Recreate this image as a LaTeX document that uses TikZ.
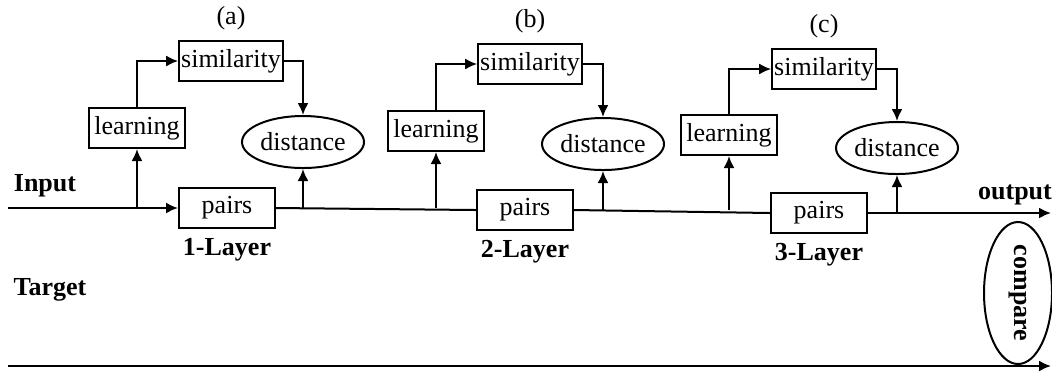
\documentclass[tikz,border=0pt]{standalone}
\usepackage{fontspec}
\setmainfont{Liberation Serif}
\usetikzlibrary{positioning,shapes.geometric,arrows.meta}

\tikzset{
  box/.style={draw, line width=1pt, minimum width=48pt, minimum height=20pt, inner sep=1pt},
  oval/.style={draw, line width=1pt, ellipse, minimum width=61pt, minimum height=26pt, inner sep=0pt},
  lbl/.style={font=\fontsize{13}{15}\selectfont\bfseries},
  wire/.style={line width=1pt},
  >={Latex[length=6pt, width=5.5pt]}
}

\begin{document}
\begin{tikzpicture}[x=0.5pt, y=-0.5pt, wire, font=\fontsize{13}{15}\selectfont]
    \useasboundingbox (0,0) rectangle (1052,372);

    % layer 1
    \node[box] (sim1) at (231,61) {similarity};
    \node[box] (learn1) at (137,128) {learning};
    \node[oval] (dist1) at (303,142) {distance};
    \node[box] (pairs1) at (227,208) {pairs};
    \node[above=1pt of sim1] (tag1) {(a)};
    \node[lbl, below=1pt of pairs1] (layer1) {1-Layer};

    % layer 2
    \node[box] (sim2) at (530,64) {similarity};
    \node[box] (learn2) at (436,131) {learning};
    \node[oval] (dist2) at (603,144) {distance};
    \node[box] (pairs2) at (525,210) {pairs};
    \node[above=1pt of sim2] (tag2) {(b)};
    \node[lbl, below=1pt of pairs2] (layer2) {2-Layer};

    % layer 3
    \node[box] (sim3) at (824,69) {similarity};
    \node[box] (learn3) at (729,135) {learning};
    \node[oval] (dist3) at (897,148) {distance};
    \node[box] (pairs3) at (819,213) {pairs};
    \node[above=1pt of sim3] (tag3) {(c)};
    \node[lbl, below=1pt of pairs3] (layer3) {3-Layer};

    % compare
    \node[oval, lbl, rotate=-90, minimum width=71pt, minimum height=34pt] (cmp) at (1018,293) {compare};

    \node[lbl] (inp) at (45,186) {Input};
    \node[lbl] (outp) at (1015,195) {output};
    \node[lbl] (tgt) at (50,290) {Target};

    \coordinate (in) at (8,208);
    \coordinate (out) at (1051,213);
    \coordinate (t0) at (8,366);
    \coordinate (t1) at (1051,366);

    % main line
    \draw[->] (in) -- (pairs1.west);
    \draw (pairs1.east) -- (pairs2.west);
    \draw (pairs2.east) -- (pairs3.west);
    \draw[->] (pairs3.east) -- (out);
    \draw[->] (t0) -- (t1); % target

    % branches
    \draw[->] (learn1 |- in) -- (learn1.south);
    \draw[->] (learn1.north) |- (sim1.west);
    \draw[->] (sim1.east) -| (dist1.north);
    \draw[->] (dist1 |- pairs1.east) -- (dist1.south);

    \draw[->] (learn2 |- pairs1.east) -- (learn2.south);
    \draw[->] (learn2.north) |- (sim2.west);
    \draw[->] (sim2.east) -| (dist2.north);
    \draw[->] (dist2 |- pairs2.east) -- (dist2.south);

    \draw[->] (learn3 |- pairs2.east) -- (learn3.south);
    \draw[->] (learn3.north) |- (sim3.west);
    \draw[->] (sim3.east) -| (dist3.north);
    \draw[->] (dist3 |- pairs3.east) -- (dist3.south);
\end{tikzpicture}
\end{document}
